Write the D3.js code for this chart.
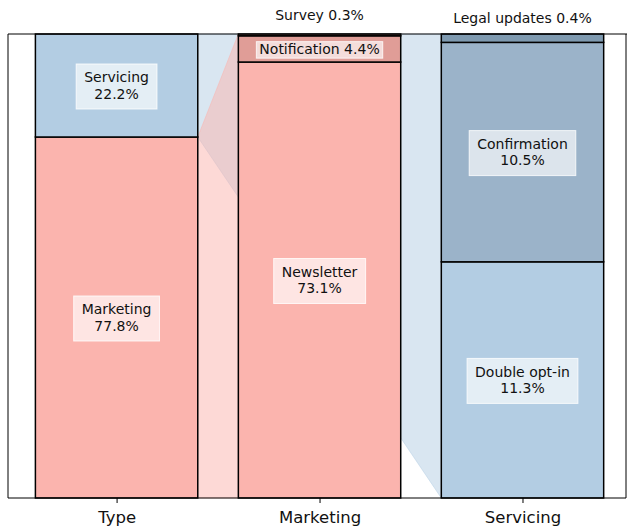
<!DOCTYPE html>
<html>
<head>
<meta charset="utf-8">
<script src="https://cdn.jsdelivr.net/npm/d3@7"></script>
<style>
  body { margin: 0; background: #fff; }
  svg { font-family: "DejaVu Sans", sans-serif; }
</style>
</head>
<body>
<div id="chart"></div>
<script>
// categories on the x axis
var categories = ["Type", "Marketing", "Servicing"];

// first bar: split by type
var typeLabels = ["Marketing", "Servicing"];
var typeValues = [77.8, 22.2];

// breakdown of marketing
var marketingLabels = ["Newsletter", "Notification", "Survey"];
var marketingValues = [73.1, 4.4, 0.3];

// breakdown of servicing
var servicingLabels = ["Double opt-in", "Confirmation", "Legal updates"];
var servicingValues = [11.3, 10.5, 0.4];

var W = 627, H = 530;
var plotLeft = 8, plotRight = 626, plotTop = 34, plotBottom = 498;
var barW = 0.8;

var svg = d3.select("#chart").append("svg")
    .attr("width", W)
    .attr("height", H);

var x = d3.scaleLinear().domain([-0.535, 2.51]).range([plotLeft, plotRight]);
var bw = x(barW) - x(0);

function stack(labels, values) {
    var acc = 0;
    return labels.map(function(l, i) {
        var d = { label: l, value: values[i], y0: acc, y1: acc + values[i] };
        acc += values[i];
        return d;
    });
}

var typeStack = stack(typeLabels, typeValues);
var bars = [
    { cat: 0, segs: typeStack, total: d3.sum(typeValues),
      colors: ["#fbb4ae", "#b3cde3"] },
    { cat: 1, segs: stack(marketingLabels, marketingValues), total: d3.sum(marketingValues),
      colors: ["#fbb4ae", "#e09d97", "#cf8a85"] },
    { cat: 2, segs: stack(servicingLabels, servicingValues), total: d3.sum(servicingValues),
      colors: ["#b3cde3", "#9bb3c9", "#7f9ab0"] }
];
bars.forEach(function(b) {
    b.y = d3.scaleLinear().domain([0, b.total]).range([plotBottom, plotTop]);
});

// connectors between type bar and the breakdown bars (behind the bars)
// blue (servicing) first, pink (marketing) on top
var yType = bars[0].y;
var conn = svg.append("g");
[2, 1].forEach(function(k) {
    var j = k - 1;
    var seg = typeStack[j];
    var b = bars[k];
    var x0 = x(0) + bw / 2, x1 = x(k) - bw / 2;
    var pts = [[x0, yType(seg.y0)], [x0, yType(seg.y1)], [x1, b.y(b.total)], [x1, b.y(0)]];
    conn.append("path")
        .attr("d", "M" + pts.join("L") + "Z")
        .attr("fill", bars[0].colors[j])
        .attr("fill-opacity", 0.5)
        .attr("stroke", bars[0].colors[j])
        .attr("stroke-opacity", 0.5)
        .attr("stroke-width", 1);
});

// bars
bars.forEach(function(b) {
    var g = svg.append("g");
    g.selectAll("rect").data(b.segs).enter().append("rect")
        .attr("x", x(b.cat) - bw / 2)
        .attr("width", bw)
        .attr("y", function(d) { return b.y(d.y1); })
        .attr("height", function(d) { return b.y(d.y0) - b.y(d.y1); })
        .attr("fill", function(d, i) { return b.colors[i]; })
        .attr("stroke", "#000")
        .attr("stroke-width", 1.5);
});

// labels
var fs = 14;
function boxLabel(cx, cy, lines, padX, padY) {
    var g = svg.append("g");
    var rect = g.append("rect");
    var t = g.append("text")
        .attr("text-anchor", "middle")
        .attr("font-size", fs)
        .attr("fill", "#111");
    var lh = 16.5;
    var start = cy - (lines.length - 1) * lh / 2;
    lines.forEach(function(l, i) {
        t.append("tspan")
            .attr("x", cx)
            .attr("y", start + i * lh)
            .attr("dy", "0.35em")
            .text(l);
    });
    var bb = t.node().getBBox();
    rect.attr("x", bb.x - padX)
        .attr("y", cy - (lines.length * lh) / 2 - padY + 1)
        .attr("width", bb.width + padX * 2)
        .attr("height", lines.length * lh + padY * 2)
        .attr("fill", "#fff")
        .attr("fill-opacity", 0.65)
        .attr("stroke", "#fff")
        .attr("stroke-opacity", 0.8)
        .attr("stroke-width", 1);
}

bars.forEach(function(b) {
    var cx = x(b.cat);
    b.segs.forEach(function(d) {
        var pct = d.value.toFixed(1) + "%";
        var h = b.y(d.y0) - b.y(d.y1);
        if (h < 10) {
            var above = b.cat === 1 ? 15 : 18;
            svg.append("text")
                .attr("x", cx)
                .attr("y", above)
                .attr("dy", "0.35em")
                .attr("text-anchor", "middle")
                .attr("font-size", fs)
                .attr("fill", "#111")
                .text(d.label + " " + pct);
        } else if (h < 40) {
            boxLabel(cx, (b.y(d.y0) + b.y(d.y1)) / 2, [d.label + " " + pct], 3, 0);
        } else {
            boxLabel(cx, (b.y(d.y0) + b.y(d.y1)) / 2, [d.label, pct], 8, 6);
        }
    });
});

// frame: left, top, right spines
var frame = svg.append("g").attr("stroke", "#000").attr("stroke-width", 1);
frame.append("line").attr("x1", plotLeft).attr("x2", plotLeft).attr("y1", plotTop).attr("y2", plotBottom);
frame.append("line").attr("x1", plotLeft).attr("x2", W).attr("y1", plotTop).attr("y2", plotTop);
frame.append("line").attr("x1", plotRight).attr("x2", plotRight).attr("y1", plotTop).attr("y2", plotBottom);

// x axis
var xAxis = d3.axisBottom(x)
    .tickValues([0, 1, 2])
    .tickFormat(function(d) { return categories[d]; })
    .tickSize(5)
    .tickPadding(8);
var ax = svg.append("g")
    .attr("transform", "translate(0," + plotBottom + ")")
    .call(xAxis);
ax.select(".domain").attr("d", "M" + plotLeft + ",0H" + plotRight).attr("stroke", "#000");
ax.selectAll(".tick line").attr("stroke", "#000");
ax.selectAll(".tick text")
    .attr("font-family", "DejaVu Sans, sans-serif")
    .attr("font-size", 16.5)
    .attr("fill", "#111");
</script>
</body>
</html>
